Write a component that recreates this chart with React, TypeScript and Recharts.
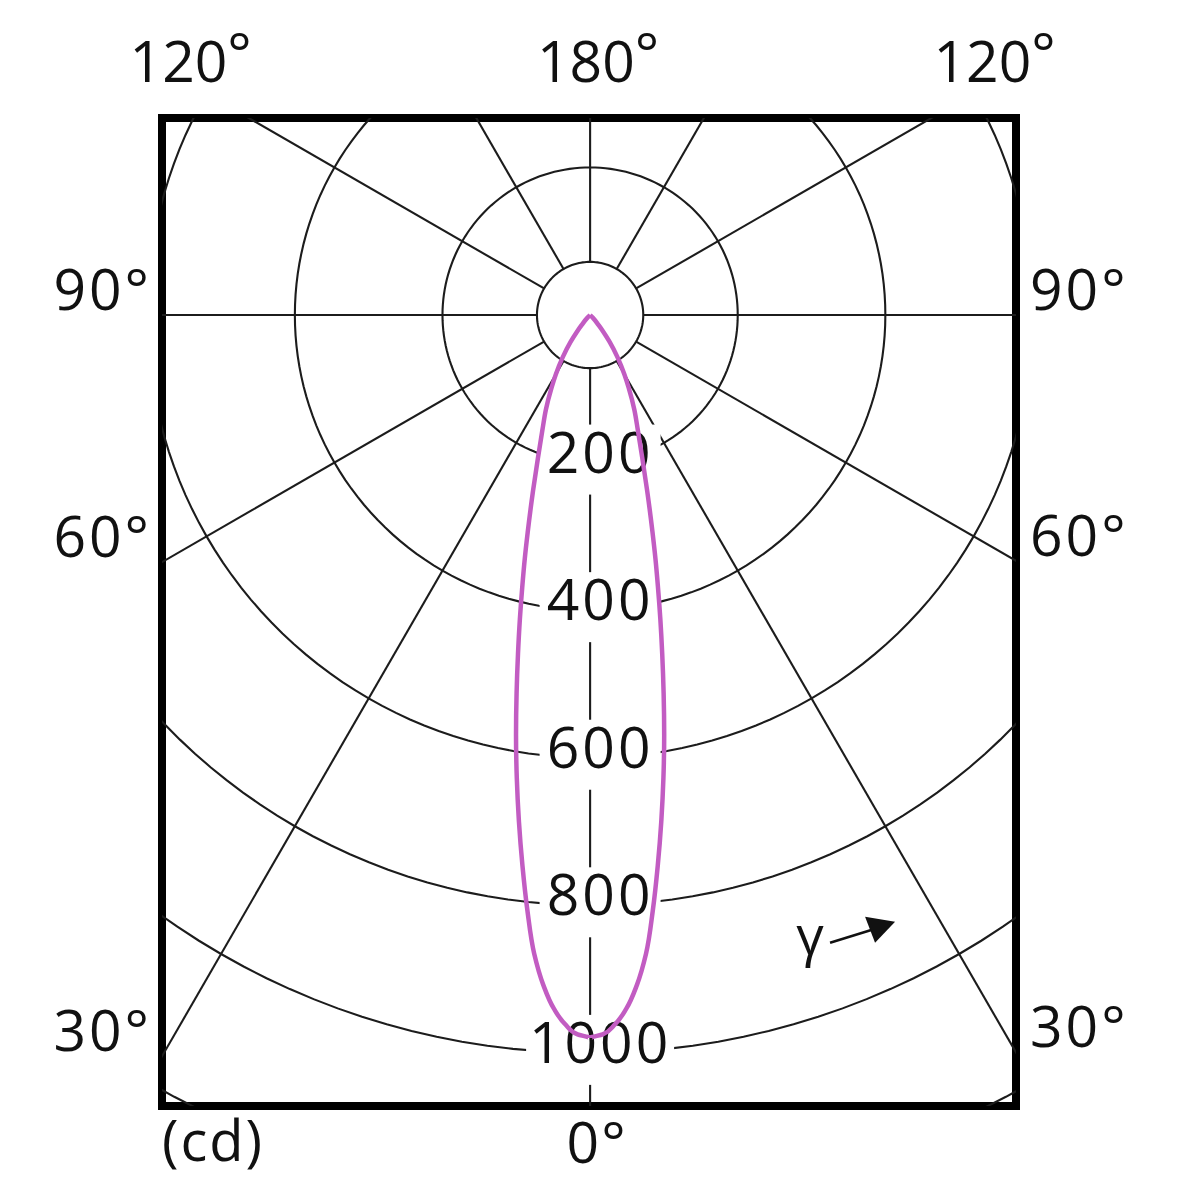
import React from "react";
import { ComposedChart, XAxis, YAxis, Scatter, ReferenceDot, ReferenceArea } from "recharts";

// gamma (deg) vs luminous intensity (cd), C0-C180 plane, drawn symmetric
const GAMMA = [0, 1, 2, 3, 4, 5, 6, 7, 8, 9, 10, 11, 12, 13, 14, 15, 16, 18, 20, 22.5, 25, 28, 30, 33, 36, 38, 40, 45, 50, 90];
const INTENSITY = [980, 975, 962, 941, 910, 869, 812, 752, 693, 635, 578, 522, 470, 423, 380, 342, 307, 250, 207, 169, 142, 111, 93, 68, 45, 30, 18, 5, 0, 0];

const RINGS = [200, 400, 600, 800, 1000, 1200];
const RING_LABELS = [200, 400, 600, 800, 1000];
const INNER_RING = 72;
const SPOKES = [-150, -120, -90, -60, -30, 0, 30, 60, 90, 120, 150, 180];

const LEFT_LABELS = [90, 60, 30];
const RIGHT_LABELS = [90, 60, 30];
const TOP_LABELS = [-120, 180, 120];
const BOTTOM_LABELS = [0];

const X_MIN = -580;
const X_MAX = 577;
const Y_MIN = -1072;
const Y_MAX = 267;

const GRID = "#1c1c1c";
const CURVE = "#c25cc2";
const FONT = "'Open Sans', sans-serif";

const rad = (d: number) => (d * Math.PI) / 180;
const polar = (g: number, r: number) => ({ x: r * Math.sin(rad(g)), y: -r * Math.cos(rad(g)) });
const circle = (r: number) => Array.from({ length: 181 }, (_, i) => polar(i * 2, r));

function frameHit(a: number) {
  const dx = Math.sin(rad(a));
  const dy = -Math.cos(rad(a));
  let t = Infinity;
  if (dx > 1e-9) t = Math.min(t, X_MAX / dx);
  if (dx < -1e-9) t = Math.min(t, X_MIN / dx);
  if (dy > 1e-9) t = Math.min(t, Y_MAX / dy);
  if (dy < -1e-9) t = Math.min(t, Y_MIN / dy);
  return { x: dx * t, y: dy * t };
}

// mirror the half curve to get the full C0/C180 outline
const curve = [
  ...GAMMA.slice(1).reverse().map((g, i) => polar(-g, INTENSITY[GAMMA.length - 1 - i])),
  ...GAMMA.map((g, i) => polar(g, INTENSITY[i])),
];

const noDot = () => <g />;

const RingLabel = (p: any) => {
  const v = p.payload?.v ?? p.v;
  const n = String(v).length;
  const w = 27 * n + 40;
  const tx = p.cx + 10;
  const ty = p.cy + 10;
  return (
    <g>
      <rect x={tx - w / 2} y={ty - 48} width={w} height={70} fill="#fff" />
      <text x={tx} y={ty} textAnchor="middle" fontFamily={FONT} fontSize={57} letterSpacing={3} fill="#111">
        {v}
      </text>
    </g>
  );
};

const AngleLabel = ({ cx, cy, value, edge }: any) => {
  const common = { fontFamily: FONT, fontSize: 57, fill: "#111" };
  if (edge === "top") {
    const anchor = value < 0 ? "end" : value === 180 ? "middle" : "start";
    const x = value < 0 ? cx + 3 : value === 180 ? cx + 8 : cx + 2;
    return (
      <text x={x} y={cy - 36} textAnchor={anchor} {...common}>
        {Math.abs(value)}
        <tspan dy={-8}>°</tspan>
      </text>
    );
  }
  if (edge === "left")
    return (
      <text x={cx - 10} y={cy - 5} textAnchor="end" letterSpacing={3} {...common}>
        {Math.abs(value)}°
      </text>
    );
  if (edge === "right")
    return (
      <text x={cx + 14} y={cy - 5} textAnchor="start" letterSpacing={3} {...common}>
        {value}°
      </text>
    );
  return (
    <text x={cx + 7} y={cy + 57} textAnchor="middle" letterSpacing={2} {...common}>
      {value}°
    </text>
  );
};

const GammaArrow = ({ cx, cy }: any) => (
  <g>
    <text x={cx} y={cy} textAnchor="middle" fontFamily={FONT} fontSize={54} fill="#111">
      γ
    </text>
    <line x1={cx + 20} y1={cy - 12} x2={cx + 62} y2={cy - 25} stroke="#111" strokeWidth={2.5} />
    <polygon points={`${cx + 55},${cy - 38} ${cx + 85},${cy - 33} ${cx + 65},${cy - 12}`} fill="#111" />
  </g>
);

export default function App() {
  const outer = [
    ...LEFT_LABELS.map((a) => ({ a: -a, value: a, edge: "left" })),
    ...RIGHT_LABELS.map((a) => ({ a, value: a, edge: "right" })),
    ...TOP_LABELS.map((a) => ({ a, value: a, edge: "top" })),
    ...BOTTOM_LABELS.map((a) => ({ a, value: a, edge: "bottom" })),
  ];

  return (
    <div style={{ position: "absolute", left: 0, top: 0, width: 1179, height: 1200, background: "#fff" }}>
      <ComposedChart width={1179} height={1200} margin={{ top: 118, right: 163, bottom: 94, left: 162 }}>
        <XAxis type="number" dataKey="x" domain={[X_MIN, X_MAX]} allowDataOverflow hide />
        <YAxis type="number" dataKey="y" domain={[Y_MIN, Y_MAX]} allowDataOverflow hide />

        {[INNER_RING, ...RINGS].map((r) => (
          <Scatter
            key={"ring" + r}
            data={circle(r)}
            fill="none"
            line={{ stroke: GRID, strokeWidth: 2.1 }}
            lineType="joint"
            shape={noDot}
            isAnimationActive={false}
          />
        ))}
        {SPOKES.map((a) => (
          <Scatter
            key={"spoke" + a}
            data={[polar(a, INNER_RING), polar(a, 2000)]}
            fill="none"
            line={{ stroke: GRID, strokeWidth: 2.1 }}
            lineType="joint"
            shape={noDot}
            isAnimationActive={false}
          />
        ))}

        <Scatter
          data={RING_LABELS.map((v) => ({ x: 0, y: -v, v }))}
          shape={(p: any) => <RingLabel {...p} />}
          isAnimationActive={false}
        />

        <Scatter
          data={curve}
          fill="none"
          line={{ stroke: CURVE, strokeWidth: 4.5 }}
          lineType="joint"
          lineJointType="monotoneY"
          shape={noDot}
          isAnimationActive={false}
        />

        <ReferenceDot x={298} y={-867} r={0} ifOverflow="visible" shape={(p: any) => <GammaArrow {...p} />} />

        {outer.map((o) => {
          const pt = frameHit(o.a);
          return (
            <ReferenceDot
              key={o.edge + o.a}
              x={pt.x}
              y={pt.y}
              r={0}
              ifOverflow="visible"
              shape={(p: any) => <AngleLabel cx={p.cx} cy={p.cy} value={o.value} edge={o.edge} />}
            />
          );
        })}
        <ReferenceDot
          x={X_MIN}
          y={Y_MIN}
          r={0}
          ifOverflow="visible"
          shape={(p: any) => (
            <text x={p.cx} y={p.cy + 55} fontFamily={FONT} fontSize={56} letterSpacing={2} fill="#111">
              (cd)
            </text>
          )}
        />

        <ReferenceArea
          x1={X_MIN}
          x2={X_MAX}
          y1={Y_MIN}
          y2={Y_MAX}
          fill="none"
          stroke="#000"
          strokeWidth={8}
          ifOverflow="visible"
        />
      </ComposedChart>
    </div>
  );
}
